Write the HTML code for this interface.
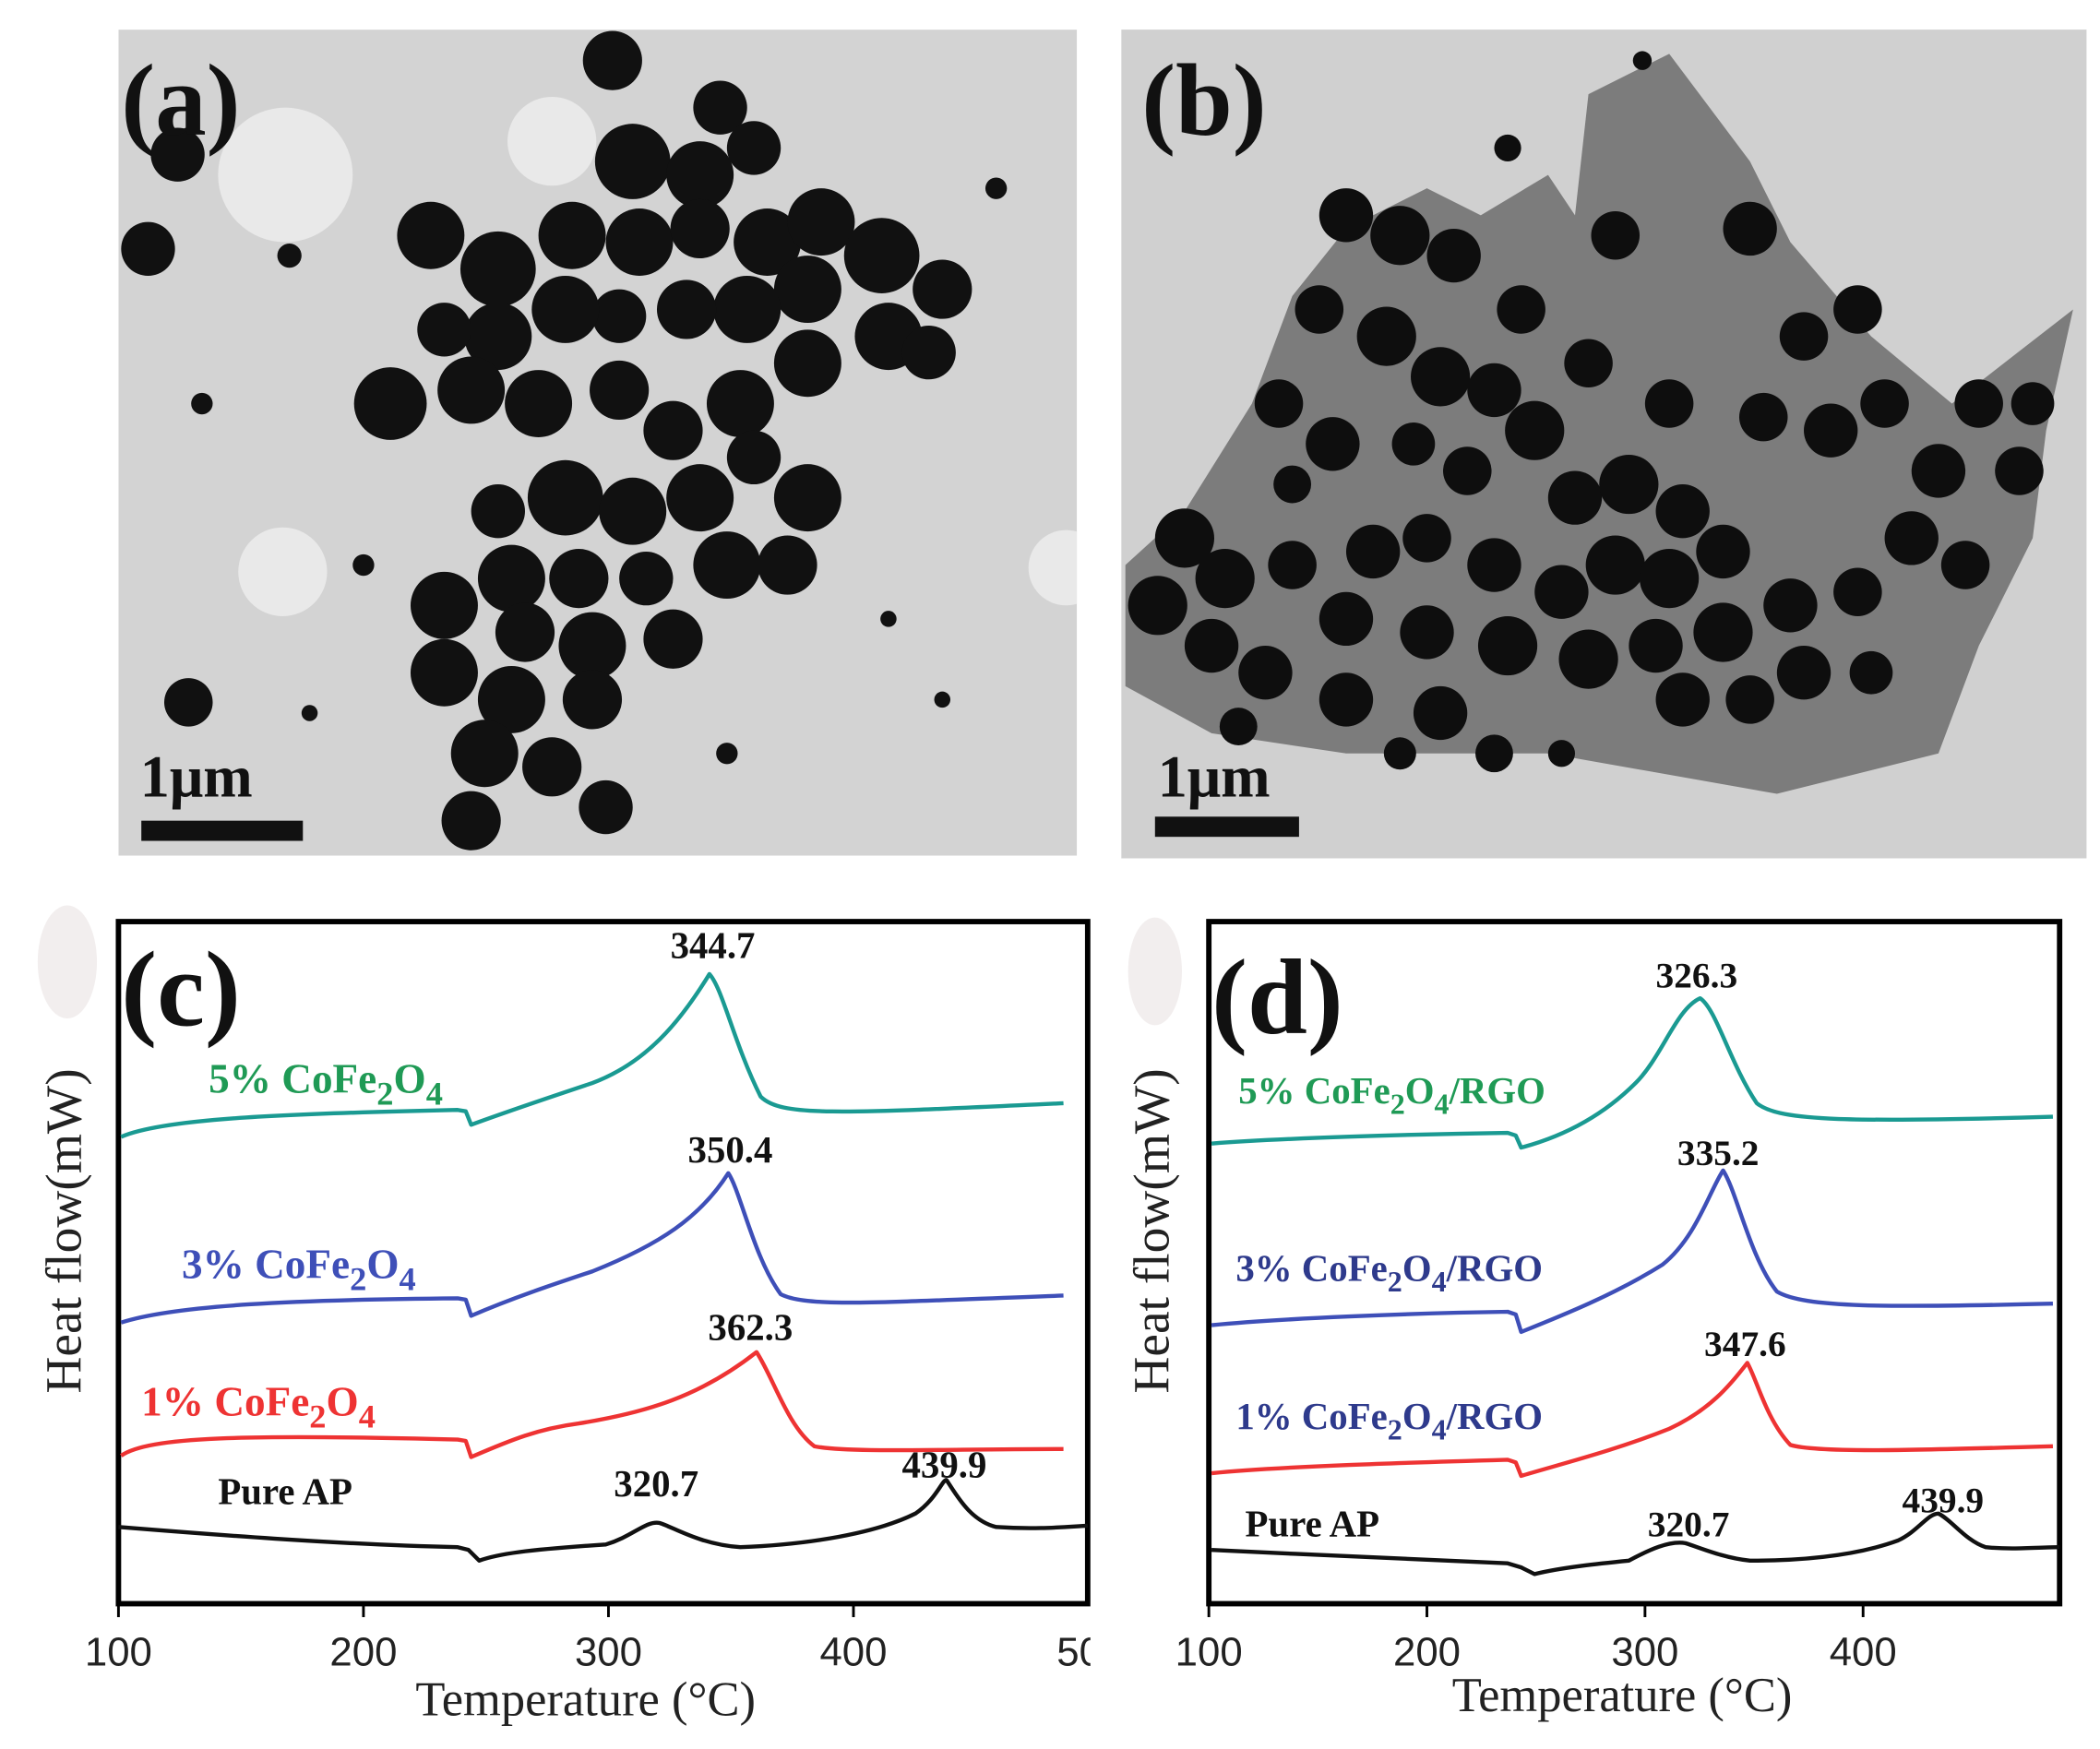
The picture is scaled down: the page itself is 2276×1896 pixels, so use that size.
<!DOCTYPE html>
<html><head><meta charset="utf-8"><style>
html,body{margin:0;padding:0;background:#fff;}
svg{display:block;}
.serif{font-family:"Liberation Serif",serif;}
.sans{font-family:"Liberation Sans",sans-serif;}
</style></head><body>
<svg width="2276" height="1896" viewBox="0 0 1560 1300" preserveAspectRatio="none" xmlns="http://www.w3.org/2000/svg">
<defs><clipPath id="ca"><rect x="88" y="22" width="712" height="614"/></clipPath></defs>
<rect width="1560" height="1300" fill="#fff"/>
<!-- Panel a -->
<g clip-path="url(#ca)">
<rect x="88" y="22" width="712" height="614" fill="#d3d3d3"/>
<g fill="#e9e9e9">
<circle cx="212" cy="130" r="50"/><circle cx="410" cy="105" r="33"/><circle cx="210" cy="425" r="33"/><circle cx="792" cy="422" r="28"/>
</g>
<g fill="#111">
<circle cx="455" cy="45" r="22"/><circle cx="535" cy="80" r="20"/><circle cx="470" cy="120" r="28"/><circle cx="520" cy="130" r="25"/><circle cx="560" cy="110" r="20"/>
<circle cx="320" cy="175" r="25"/><circle cx="370" cy="200" r="28"/><circle cx="425" cy="175" r="25"/><circle cx="475" cy="180" r="25"/><circle cx="520" cy="170" r="22"/>
<circle cx="570" cy="180" r="25"/><circle cx="610" cy="165" r="25"/><circle cx="655" cy="190" r="28"/><circle cx="700" cy="215" r="22"/><circle cx="600" cy="215" r="25"/>
<circle cx="555" cy="230" r="25"/><circle cx="510" cy="230" r="22"/><circle cx="460" cy="235" r="20"/><circle cx="420" cy="230" r="25"/><circle cx="370" cy="250" r="25"/>
<circle cx="330" cy="245" r="20"/><circle cx="290" cy="300" r="27"/><circle cx="350" cy="290" r="25"/><circle cx="400" cy="300" r="25"/><circle cx="460" cy="290" r="22"/>
<circle cx="500" cy="320" r="22"/><circle cx="550" cy="300" r="25"/><circle cx="600" cy="270" r="25"/><circle cx="660" cy="250" r="25"/><circle cx="690" cy="262" r="20"/>
<circle cx="420" cy="370" r="28"/><circle cx="470" cy="380" r="25"/><circle cx="520" cy="370" r="25"/><circle cx="560" cy="340" r="20"/><circle cx="600" cy="370" r="25"/>
<circle cx="370" cy="380" r="20"/><circle cx="380" cy="430" r="25"/><circle cx="430" cy="430" r="22"/><circle cx="480" cy="430" r="20"/><circle cx="540" cy="420" r="25"/>
<circle cx="585" cy="420" r="22"/><circle cx="330" cy="450" r="25"/><circle cx="390" cy="470" r="22"/><circle cx="440" cy="480" r="25"/><circle cx="500" cy="475" r="22"/>
<circle cx="330" cy="500" r="25"/><circle cx="380" cy="520" r="25"/><circle cx="440" cy="520" r="22"/><circle cx="360" cy="560" r="25"/><circle cx="410" cy="570" r="22"/>
<circle cx="350" cy="610" r="22"/><circle cx="450" cy="600" r="20"/><circle cx="132" cy="115" r="20"/><circle cx="110" cy="185" r="20"/><circle cx="140" cy="522" r="18"/>
<circle cx="215" cy="190" r="9"/><circle cx="150" cy="300" r="8"/><circle cx="740" cy="140" r="8"/><circle cx="270" cy="420" r="8"/><circle cx="700" cy="520" r="6"/><circle cx="540" cy="560" r="8"/><circle cx="230" cy="530" r="6"/><circle cx="660" cy="460" r="6"/>
</g>
</g>
<text x="90" y="100" class="serif" font-size="76" font-weight="bold" fill="#111">(a)</text>
<text x="104" y="592" class="serif" font-size="44" font-weight="bold" fill="#111">1μm</text>
<rect x="105" y="610" width="120" height="15" fill="#111"/>
<!-- Panel b -->
<rect x="833" y="22" width="717" height="616" fill="#d0d0d0"/>
<polygon fill="#7c7c7c" points="836,420 880,380 930,300 960,220 1000,170 1060,140 1100,160 1150,130 1170,160 1180,70 1240,40 1300,120 1330,180 1390,250 1450,300 1540,230 1520,320 1510,400 1470,480 1440,560 1320,590 1150,560 1000,560 900,545 836,510"/>
<g fill="#0e0e0e">
<circle cx="1000" cy="160" r="20"/><circle cx="1040" cy="175" r="22"/><circle cx="1080" cy="190" r="20"/><circle cx="1120" cy="110" r="10"/><circle cx="1220" cy="45" r="7"/>
<circle cx="1200" cy="175" r="18"/><circle cx="1300" cy="170" r="20"/><circle cx="1340" cy="250" r="18"/><circle cx="1310" cy="310" r="18"/><circle cx="1360" cy="320" r="20"/>
<circle cx="980" cy="230" r="18"/><circle cx="1030" cy="250" r="22"/><circle cx="1070" cy="280" r="22"/><circle cx="1110" cy="290" r="20"/><circle cx="1140" cy="320" r="22"/>
<circle cx="950" cy="300" r="18"/><circle cx="990" cy="330" r="20"/><circle cx="1090" cy="350" r="18"/><circle cx="1170" cy="370" r="20"/><circle cx="1210" cy="360" r="22"/>
<circle cx="1250" cy="380" r="20"/><circle cx="1200" cy="420" r="22"/><circle cx="1240" cy="430" r="22"/><circle cx="1280" cy="410" r="20"/><circle cx="1160" cy="440" r="20"/>
<circle cx="1110" cy="420" r="20"/><circle cx="1060" cy="400" r="18"/><circle cx="1020" cy="410" r="20"/><circle cx="960" cy="420" r="18"/><circle cx="1000" cy="460" r="20"/>
<circle cx="1060" cy="470" r="20"/><circle cx="1120" cy="480" r="22"/><circle cx="1180" cy="490" r="22"/><circle cx="1230" cy="480" r="20"/><circle cx="1280" cy="470" r="22"/>
<circle cx="1330" cy="450" r="20"/><circle cx="1380" cy="440" r="18"/><circle cx="1420" cy="400" r="20"/><circle cx="1440" cy="350" r="20"/><circle cx="1470" cy="300" r="18"/>
<circle cx="1500" cy="350" r="18"/><circle cx="1510" cy="300" r="16"/><circle cx="1400" cy="300" r="18"/><circle cx="1380" cy="230" r="18"/><circle cx="1460" cy="420" r="18"/>
<circle cx="880" cy="400" r="22"/><circle cx="910" cy="430" r="22"/><circle cx="860" cy="450" r="22"/><circle cx="900" cy="480" r="20"/><circle cx="940" cy="500" r="20"/>
<circle cx="1000" cy="520" r="20"/><circle cx="1070" cy="530" r="20"/><circle cx="1110" cy="560" r="14"/><circle cx="1160" cy="560" r="10"/><circle cx="1250" cy="520" r="20"/>
<circle cx="1300" cy="520" r="18"/><circle cx="1340" cy="500" r="20"/><circle cx="1390" cy="500" r="16"/><circle cx="1180" cy="270" r="18"/><circle cx="1240" cy="300" r="18"/>
<circle cx="1050" cy="330" r="16"/><circle cx="1130" cy="230" r="18"/><circle cx="960" cy="360" r="14"/><circle cx="920" cy="540" r="14"/><circle cx="1040" cy="560" r="12"/>
</g>
<text x="848" y="100" class="serif" font-size="76" font-weight="bold" fill="#111">(b)</text>
<text x="860" y="592" class="serif" font-size="44" font-weight="bold" fill="#111">1μm</text>
<rect x="858" y="607" width="107" height="15" fill="#111"/>
<!-- faint blobs -->
<ellipse cx="50" cy="715" rx="22" ry="42" fill="#f2eeee"/>
<ellipse cx="858" cy="722" rx="20" ry="40" fill="#f2eeee"/>
<!-- Panel c -->
<rect x="88" y="685" width="720" height="507" fill="none" stroke="#000" stroke-width="4"/>
<g stroke="#000" stroke-width="2">
<line x1="88" y1="1192" x2="88" y2="1202"/><line x1="270" y1="1192" x2="270" y2="1202"/><line x1="452" y1="1192" x2="452" y2="1202"/><line x1="634" y1="1192" x2="634" y2="1202"/>
</g>
<g class="sans" font-size="30" fill="#222" text-anchor="middle">
<text x="88" y="1238">100</text><text x="270" y="1238">200</text><text x="452" y="1238">300</text><text x="634" y="1238">400</text><text x="810" y="1238">500</text>
</g>
<rect x="810" y="1200" width="40" height="50" fill="#fff"/>
<text x="435" y="1275" class="serif" font-size="36" fill="#222" text-anchor="middle">Temperature (°C)</text>
<text transform="translate(60,915) rotate(-90)" class="serif" font-size="38" fill="#222" text-anchor="middle">Heat flow(mW)</text>
<text x="90" y="762" class="serif" font-size="80" font-weight="bold" fill="#111">(c)</text>
<g fill="none" stroke-width="3" stroke-linejoin="round">
<path stroke="#1a9a92" d="M90,845 C120,832 200,828 340,825 L346,826 L350,836 C380,825 410,815 440,805 C480,790 505,760 527,724 C537,735 545,775 565,815 C580,830 620,828 790,820"/>
<path stroke="#3e4fb8" d="M90,983 C130,970 220,966 340,965 L346,966 L350,978 C380,965 410,955 440,945 C490,925 520,905 541,872 C550,885 560,935 580,962 C600,972 650,968 790,963"/>
<path stroke="#ee3333" d="M90,1082 C110,1068 180,1066 340,1070 L346,1071 L350,1083 C380,1070 400,1062 430,1058 C480,1050 520,1038 562,1005 C575,1025 585,1060 605,1075 C630,1080 700,1077 790,1077"/>
<path stroke="#111" d="M88,1135 C150,1140 250,1148 340,1150 L348,1152 L356,1160 C370,1155 390,1152 450,1148 C470,1142 480,1130 490,1132 C500,1135 520,1148 550,1150 C600,1148 650,1140 680,1125 C695,1115 700,1100 703,1100 C710,1110 720,1130 740,1135 C770,1137 790,1135 808,1134"/>
</g>
<g class="serif" font-weight="bold" font-size="31">
<text x="155" y="812" fill="#1f9a55">5% CoFe<tspan dy="9" font-size="25">2</tspan><tspan dy="-9">O</tspan><tspan dy="9" font-size="25">4</tspan></text>
<text x="135" y="950" fill="#3e4fb8">3% CoFe<tspan dy="9" font-size="25">2</tspan><tspan dy="-9">O</tspan><tspan dy="9" font-size="25">4</tspan></text>
<text x="105" y="1052" fill="#ee3333">1% CoFe<tspan dy="9" font-size="25">2</tspan><tspan dy="-9">O</tspan><tspan dy="9" font-size="25">4</tspan></text>
<text x="162" y="1118" fill="#111" font-size="28">Pure AP</text>
<g fill="#111" font-size="28">
<text x="498" y="712">344.7</text><text x="511" y="864">350.4</text><text x="526" y="996">362.3</text><text x="456" y="1112">320.7</text><text x="670" y="1098">439.9</text>
</g>
</g>
<!-- Panel d -->
<rect x="898" y="685" width="632" height="507" fill="none" stroke="#000" stroke-width="4"/>
<g stroke="#000" stroke-width="2">
<line x1="898" y1="1192" x2="898" y2="1202"/><line x1="1060" y1="1192" x2="1060" y2="1202"/><line x1="1222" y1="1192" x2="1222" y2="1202"/><line x1="1384" y1="1192" x2="1384" y2="1202"/>
</g>
<g class="sans" font-size="30" fill="#222" text-anchor="middle">
<text x="898" y="1238">100</text><text x="1060" y="1238">200</text><text x="1222" y="1238">300</text><text x="1384" y="1238">400</text>
</g>
<text x="1205" y="1272" class="serif" font-size="36" fill="#222" text-anchor="middle">Temperature (°C)</text>
<text transform="translate(868,915) rotate(-90)" class="serif" font-size="38" fill="#222" text-anchor="middle">Heat flow(mW)</text>
<text x="900" y="768" class="serif" font-size="80" font-weight="bold" fill="#111">(d)</text>
<g fill="none" stroke-width="3" stroke-linejoin="round">
<path stroke="#1a9a92" d="M900,850 C950,846 1050,843 1120,842 L1126,844 L1130,853 C1160,845 1190,830 1215,805 C1235,785 1245,750 1263,742 C1275,750 1285,790 1305,820 C1320,832 1360,835 1525,830"/>
<path stroke="#3e4fb8" d="M900,985 C950,980 1050,976 1120,975 L1126,977 L1130,990 C1160,978 1200,962 1235,940 C1260,920 1270,885 1280,870 C1290,885 1300,935 1320,960 C1340,972 1400,972 1525,969"/>
<path stroke="#ee3333" d="M900,1095 C950,1090 1050,1087 1120,1085 L1126,1087 L1130,1097 C1160,1088 1200,1078 1240,1062 C1270,1048 1285,1030 1298,1013 C1305,1025 1312,1055 1330,1074 C1350,1080 1420,1078 1525,1075"/>
<path stroke="#111" d="M900,1152 C980,1156 1080,1160 1120,1162 L1130,1165 L1140,1170 C1160,1165 1190,1162 1210,1160 C1225,1152 1240,1145 1252,1147 C1262,1150 1280,1158 1300,1160 C1340,1160 1380,1156 1410,1145 C1425,1138 1432,1125 1440,1125 C1450,1130 1460,1145 1475,1150 C1495,1152 1515,1150 1530,1150"/>
</g>
<g class="serif" font-weight="bold" font-size="28">
<text x="920" y="820" fill="#1f9a55">5% CoFe<tspan dy="8" font-size="22">2</tspan><tspan dy="-8">O</tspan><tspan dy="8" font-size="22">4</tspan><tspan dy="-8">/RGO</tspan></text>
<text x="918" y="952" fill="#2e3a8c">3% CoFe<tspan dy="8" font-size="22">2</tspan><tspan dy="-8">O</tspan><tspan dy="8" font-size="22">4</tspan><tspan dy="-8">/RGO</tspan></text>
<text x="918" y="1062" fill="#2e3a8c">1% CoFe<tspan dy="8" font-size="22">2</tspan><tspan dy="-8">O</tspan><tspan dy="8" font-size="22">4</tspan><tspan dy="-8">/RGO</tspan></text>
<text x="925" y="1142" fill="#111">Pure AP</text>
<g fill="#111" font-size="27">
<text x="1230" y="734">326.3</text><text x="1246" y="866">335.2</text><text x="1266" y="1008">347.6</text><text x="1224" y="1142">320.7</text><text x="1413" y="1124">439.9</text>
</g>
</g>
</svg>
</body></html>
